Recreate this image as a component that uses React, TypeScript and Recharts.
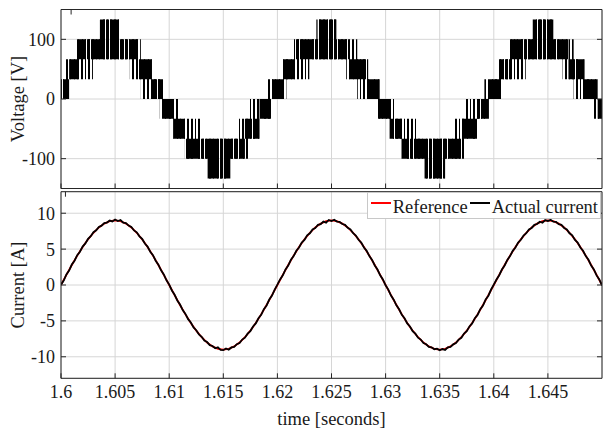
import React from "react";
import {
  Area,
  CartesianGrid,
  ComposedChart,
  Legend,
  Line,
  XAxis,
  YAxis,
} from "recharts";

const FONT = '"Liberation Serif", "Times New Roman", serif';
const FRAME = "#262626";
const GRID = "#d6d6d6";
const TEXT = "#1a1a1a";
const REF_COLOR = "#ff0000";
const ACT_COLOR = "#000000";

const timeTicks = [1.6, 1.605, 1.61, 1.615, 1.62, 1.625, 1.63, 1.635, 1.64, 1.645];
const voltTicks = [-100, 0, 100];
const currentTicks = [-10, -5, 0, 5, 10];

// dense part of the PWM voltage: band start (ms after 1.6 s), lower and upper level
const coreMs = [
  0, 0.75, 1.6, 3.6, 5.45, 7.1, 8.4, 9.4, 10.4, 11.45, 13.55, 15.65, 17.0, 18.35,
  19.45, 20.55, 21.6, 23.7, 25.45, 26.65, 28.2, 29.4, 30.5, 31.5, 33.6, 35.5, 37.0,
  38.45, 39.55, 40.55, 41.6, 43.7, 45.5, 46.9, 48.3, 49.6, 50,
];
const coreLow = [
  0, 33.3, 66.7, 66.7, 66.7, 33.3, 0, -33.3, -66.7, -100, -133.3, -100, -66.7, -33.3,
  0, 33.3, 66.7, 66.7, 66.7, 33.3, 0, -33.3, -66.7, -100, -133.3, -100, -66.7, -33.3,
  0, 33.3, 66.7, 66.7, 66.7, 33.3, 0, -33.3, -33.3,
];
const coreHigh = [
  33.3, 66.7, 100, 133.3, 100, 66.7, 33.3, 0, -33.3, -66.7, -66.7, -66.7, -33.3, 0,
  33.3, 66.7, 100, 133.3, 100, 66.7, 33.3, 0, -33.3, -66.7, -66.7, -66.7, -33.3, 0,
  33.3, 66.7, 100, 133.3, 100, 66.7, 33.3, 0, 0,
];

// outer reach of the switching spikes (sparser)
const envMs = [
  0, 0.37, 0.83, 1.48, 2.95, 3.6, 5.44, 6.36, 7.38, 8.39, 9.13,
  9.45, 10.37, 10.83, 11.48, 12.95, 13.6, 15.44, 16.36, 17.38, 18.39, 19.13,
  19.45, 20.37, 20.83, 21.48, 22.95, 23.6, 25.44, 26.36, 27.38, 28.39, 29.13,
  29.45, 30.37, 30.83, 31.48, 32.95, 33.6, 35.44, 36.36, 37.38, 38.39, 39.13,
  39.45, 40.37, 40.83, 41.48, 42.95, 43.6, 45.44, 46.36, 47.38, 48.39, 49.13,
  49.45, 50,
];
const envLow = [
  0, 0, 33.3, 33.3, 66.7, 66.7, 66.7, 33.3, 0, 0, -33.3,
  -33.3, -66.7, -66.7, -100, -100, -133.3, -100, -100, -66.7, -33.3, -33.3,
  0, 0, 33.3, 33.3, 66.7, 66.7, 66.7, 33.3, 0, 0, -33.3,
  -33.3, -66.7, -66.7, -100, -100, -133.3, -100, -100, -66.7, -33.3, -33.3,
  0, 0, 33.3, 33.3, 66.7, 66.7, 66.7, 33.3, 0, 0, -33.3,
  -33.3, -33.3,
];
const envHigh = [
  33.3, 66.7, 66.7, 100, 100, 133.3, 100, 100, 66.7, 33.3, 33.3,
  0, 0, -33.3, -33.3, -66.7, -66.7, -66.7, -33.3, 0, 0, 33.3,
  33.3, 66.7, 66.7, 100, 100, 133.3, 100, 100, 66.7, 33.3, 33.3,
  0, 0, -33.3, -33.3, -66.7, -66.7, -66.7, -33.3, 0, 0, 33.3,
  33.3, 66.7, 66.7, 100, 100, 133.3, 100, 100, 66.7, 33.3, 33.3,
  0, 0,
];

// reference current, one sample every 0.5 ms
const refCurrent = [
  0, 1.41, 2.78, 4.09, 5.29, 6.36, 7.28, 8.02, 8.56, 8.89, 9.0,
  8.89, 8.56, 8.02, 7.28, 6.36, 5.29, 4.09, 2.78, 1.41, 0,
  -1.41, -2.78, -4.09, -5.29, -6.36, -7.28, -8.02, -8.56, -8.89, -9.0,
  -8.89, -8.56, -8.02, -7.28, -6.36, -5.29, -4.09, -2.78, -1.41, 0,
  1.41, 2.78, 4.09, 5.29, 6.36, 7.28, 8.02, 8.56, 8.89, 9.0,
  8.89, 8.56, 8.02, 7.28, 6.36, 5.29, 4.09, 2.78, 1.41, 0,
  -1.41, -2.78, -4.09, -5.29, -6.36, -7.28, -8.02, -8.56, -8.89, -9.0,
  -8.89, -8.56, -8.02, -7.28, -6.36, -5.29, -4.09, -2.78, -1.41, 0,
  1.41, 2.78, 4.09, 5.29, 6.36, 7.28, 8.02, 8.56, 8.89, 9.0,
  8.89, 8.56, 8.02, 7.28, 6.36, 5.29, 4.09, 2.78, 1.41, 0,
];

// measured current, one sample every 0.25 ms
const actualCurrent = [
  0.05, 0.62, 1.48, 2.02, 2.85, 3.38, 4.15, 4.64, 5.36, 5.79, 6.42, 6.8, 7.35, 7.62, 8.1, 8.27, 8.64, 8.7, 8.98, 8.86, 9.12,
  8.92, 9.05, 8.7, 8.62, 8.28, 8.08, 7.6, 7.34, 6.78, 6.42, 5.78, 5.35, 4.64, 4.15, 3.38, 2.84, 2.04, 1.47, 0.65, 0.06,
  -0.76, -1.36, -2.16, -2.72, -3.5, -4.03, -4.76, -5.23, -5.9, -6.3, -6.9, -7.22, -7.74, -7.95, -8.38, -8.5, -8.82, -8.68, -9.05, -9.08,
  -8.85, -9.02, -8.7, -8.62, -8.25, -8.08, -7.6, -7.34, -6.78, -6.42, -5.78, -5.35, -4.63, -4.16, -3.37, -2.85, -2.03, -1.48, -0.64, 0.05,
  0.78, 1.35, 2.17, 2.71, 3.51, 4.02, 4.77, 5.22, 5.91, 6.29, 6.91, 7.21, 7.75, 7.94, 8.39, 8.49, 8.83, 8.69, 9.06, 8.92,
  9.1, 8.84, 8.8, 8.5, 8.38, 7.96, 7.73, 7.22, 6.9, 6.3, 5.9, 5.23, 4.76, 4.03, 3.5, 2.72, 2.16, 1.35, 0.77, -0.05,
  -0.64, -1.47, -2.04, -2.84, -3.38, -4.15, -4.64, -5.35, -5.78, -6.42, -6.78, -7.34, -7.6, -8.08, -8.26, -8.62, -8.69, -8.95, -8.88, -9.1,
  -8.92, -9.04, -8.69, -8.63, -8.27, -8.09, -7.61, -7.35, -6.77, -6.43, -5.77, -5.36, -4.62, -4.17, -3.36, -2.86, -2.02, -1.49, -0.63, 0.06,
  0.77, 1.36, 2.16, 2.72, 3.5, 4.03, 4.76, 5.23, 5.9, 6.3, 6.9, 7.22, 7.74, 7.95, 8.38, 8.5, 8.82, 8.68, 9.05, 8.91,
  9.08, 8.83, 8.81, 8.49, 8.39, 7.95, 7.74, 7.21, 6.91, 6.29, 5.91, 5.22, 4.77, 4.02, 3.51, 2.71, 2.17, 1.34, 0.78, -0.06,
];

const legendItems = [
  { name: "Reference", color: REF_COLOR },
  { name: "Actual current", color: ACT_COLOR },
];

const stepValue = (ms: number[], values: number[], at: number) => {
  let k = 0;
  for (let i = 0; i < ms.length; i++) if (ms[i] <= at) k = i;
  return values[k];
};

const voltMs = Array.from(new Set([...coreMs, ...envMs])).sort((a, b) => a - b);
const voltData = voltMs.map((m) => ({
  t: 1.6 + m / 1000,
  core: [stepValue(coreMs, coreLow, m), stepValue(coreMs, coreHigh, m)],
  env: [stepValue(envMs, envLow, m), stepValue(envMs, envHigh, m)],
}));

const currentData = actualCurrent.map((v, i) => ({
  t: 1.6 + i * 0.00025,
  actual: v,
  reference: i % 2 === 0 ? refCurrent[i / 2] : undefined,
}));

const tickStyle = { fontSize: 18, fontFamily: FONT, fill: TEXT };
const blank = () => "";

const LegendBox = () => (
  <div
    style={{
      display: "inline-flex",
      alignItems: "center",
      height: 27,
      boxSizing: "border-box",
      border: "1px solid #c8c8c8",
      background: "#fff",
      padding: "4px 2px 0 3px",
      fontFamily: FONT,
      fontSize: 18.5,
      color: TEXT,
      whiteSpace: "nowrap",
    }}
  >
    {legendItems.map((item, i) => (
      <span
        key={item.name}
        style={{ display: "inline-flex", alignItems: "center", marginLeft: i ? 2 : 0 }}
      >
        <span
          style={{
            display: "inline-block",
            width: 20,
            height: 2,
            background: item.color,
            marginRight: 2,
            transform: "translateY(-4px)",
          }}
        />
        <span>{item.name}</span>
      </span>
    ))}
  </div>
);

export default function App() {
  return (
    <div
      style={{
        position: "absolute",
        left: 0,
        top: 0,
        width: 603,
        height: 433,
        background: "#fff",
      }}
    >
      <div style={{ position: "absolute", left: 0, top: 0 }}>
        <ComposedChart
          width={603}
          height={190}
          data={voltData}
          margin={{ top: 9, right: 0, bottom: 0, left: 0 }}
        >
          <defs>
            <pattern id="pwmCore" patternUnits="userSpaceOnUse" width="19" height="6">
              <rect x="0" y="0" width="5" height="6" fill="#000" />
              <rect x="6" y="0" width="4" height="6" fill="#000" />
              <rect x="11" y="0" width="3" height="6" fill="#000" />
              <rect x="15" y="0" width="4" height="6" fill="#000" />
            </pattern>
            <pattern id="pwmEnv" patternUnits="userSpaceOnUse" width="11" height="6">
              <rect x="0" y="0" width="2" height="6" fill="#000" />
              <rect x="4" y="0" width="2" height="6" fill="#000" />
              <rect x="8" y="0" width="1" height="6" fill="#000" />
            </pattern>
          </defs>
          <CartesianGrid stroke={GRID} />
          <Area
            dataKey="env"
            type="stepAfter"
            stroke="none"
            fill="url(#pwmEnv)"
            fillOpacity={1}
            isAnimationActive={false}
            activeDot={false}
          />
          <Area
            dataKey="core"
            type="stepAfter"
            stroke="none"
            fill="url(#pwmCore)"
            fillOpacity={1}
            isAnimationActive={false}
            activeDot={false}
          />
          <XAxis
            dataKey="t"
            type="number"
            domain={[1.6, 1.65]}
            allowDataOverflow
            ticks={timeTicks}
            tickFormatter={blank}
            tickSize={-5}
            height={1.5}
            axisLine={{ stroke: FRAME }}
            tickLine={{ stroke: FRAME }}
          />
          <XAxis
            xAxisId="top"
            orientation="top"
            type="number"
            domain={[1.6, 1.65]}
            allowDataOverflow
            ticks={timeTicks}
            tickFormatter={blank}
            tickSize={-5}
            height={0.5}
            axisLine={{ stroke: FRAME }}
            tickLine={{ stroke: FRAME }}
          />
          <YAxis
            type="number"
            domain={[-150, 150]}
            allowDataOverflow
            ticks={voltTicks}
            width={61}
            tickSize={-5}
            tickMargin={11}
            tick={tickStyle}
            axisLine={{ stroke: FRAME }}
            tickLine={{ stroke: FRAME }}
            label={{
              value: "Voltage [V]",
              angle: -90,
              position: "insideLeft",
              offset: 17,
              fontSize: 18.5,
              fontFamily: FONT,
              fill: TEXT,
              style: { textAnchor: "middle" },
            }}
          />
          <YAxis
            yAxisId="right"
            orientation="right"
            type="number"
            domain={[-150, 150]}
            allowDataOverflow
            ticks={voltTicks}
            width={1}
            tickSize={-5}
            tickFormatter={blank}
            axisLine={{ stroke: FRAME }}
            tickLine={{ stroke: FRAME }}
          />
        </ComposedChart>
      </div>

      <div style={{ position: "absolute", left: 0, top: 190 }}>
        <ComposedChart
          width={603}
          height={243}
          data={currentData}
          margin={{ top: 0.7, right: 0, bottom: 0, left: 0 }}
        >
          <CartesianGrid stroke={GRID} />
          <Line
            dataKey="reference"
            name="Reference"
            stroke={REF_COLOR}
            strokeWidth={1.8}
            dot={false}
            activeDot={false}
            connectNulls
            isAnimationActive={false}
          />
          <Line
            dataKey="actual"
            name="Actual current"
            stroke={ACT_COLOR}
            strokeWidth={1.8}
            dot={false}
            activeDot={false}
            isAnimationActive={false}
          />
          <Legend
            layout="horizontal"
            verticalAlign="middle"
            align="center"
            content={<LegendBox />}
            wrapperStyle={{ top: 1.5, right: 2, left: "auto", width: "auto" }}
          />
          <XAxis
            dataKey="t"
            type="number"
            domain={[1.6, 1.65]}
            allowDataOverflow
            ticks={timeTicks}
            tickSize={-5}
            tickMargin={12}
            height={54.7}
            tick={tickStyle}
            axisLine={{ stroke: FRAME }}
            tickLine={{ stroke: FRAME }}
            label={{
              value: "time [seconds]",
              position: "insideBottom",
              offset: 8.5,
              fontSize: 18.5,
              fontFamily: FONT,
              fill: TEXT,
            }}
          />
          <XAxis
            xAxisId="top"
            orientation="top"
            type="number"
            domain={[1.6, 1.65]}
            allowDataOverflow
            ticks={timeTicks}
            tickFormatter={blank}
            tickSize={-5}
            height={1}
            axisLine={{ stroke: FRAME }}
            tickLine={{ stroke: FRAME }}
          />
          <YAxis
            type="number"
            domain={[-13, 13]}
            allowDataOverflow
            ticks={currentTicks}
            width={61}
            tickSize={-5}
            tickMargin={11}
            tick={tickStyle}
            axisLine={{ stroke: FRAME }}
            tickLine={{ stroke: FRAME }}
            label={{
              value: "Current [A]",
              angle: -90,
              position: "insideLeft",
              offset: 17,
              fontSize: 18.5,
              fontFamily: FONT,
              fill: TEXT,
              style: { textAnchor: "middle" },
            }}
          />
          <YAxis
            yAxisId="right"
            orientation="right"
            type="number"
            domain={[-13, 13]}
            allowDataOverflow
            ticks={currentTicks}
            width={1}
            tickSize={-5}
            tickFormatter={blank}
            axisLine={{ stroke: FRAME }}
            tickLine={{ stroke: FRAME }}
          />
        </ComposedChart>
      </div>
    </div>
  );
}
